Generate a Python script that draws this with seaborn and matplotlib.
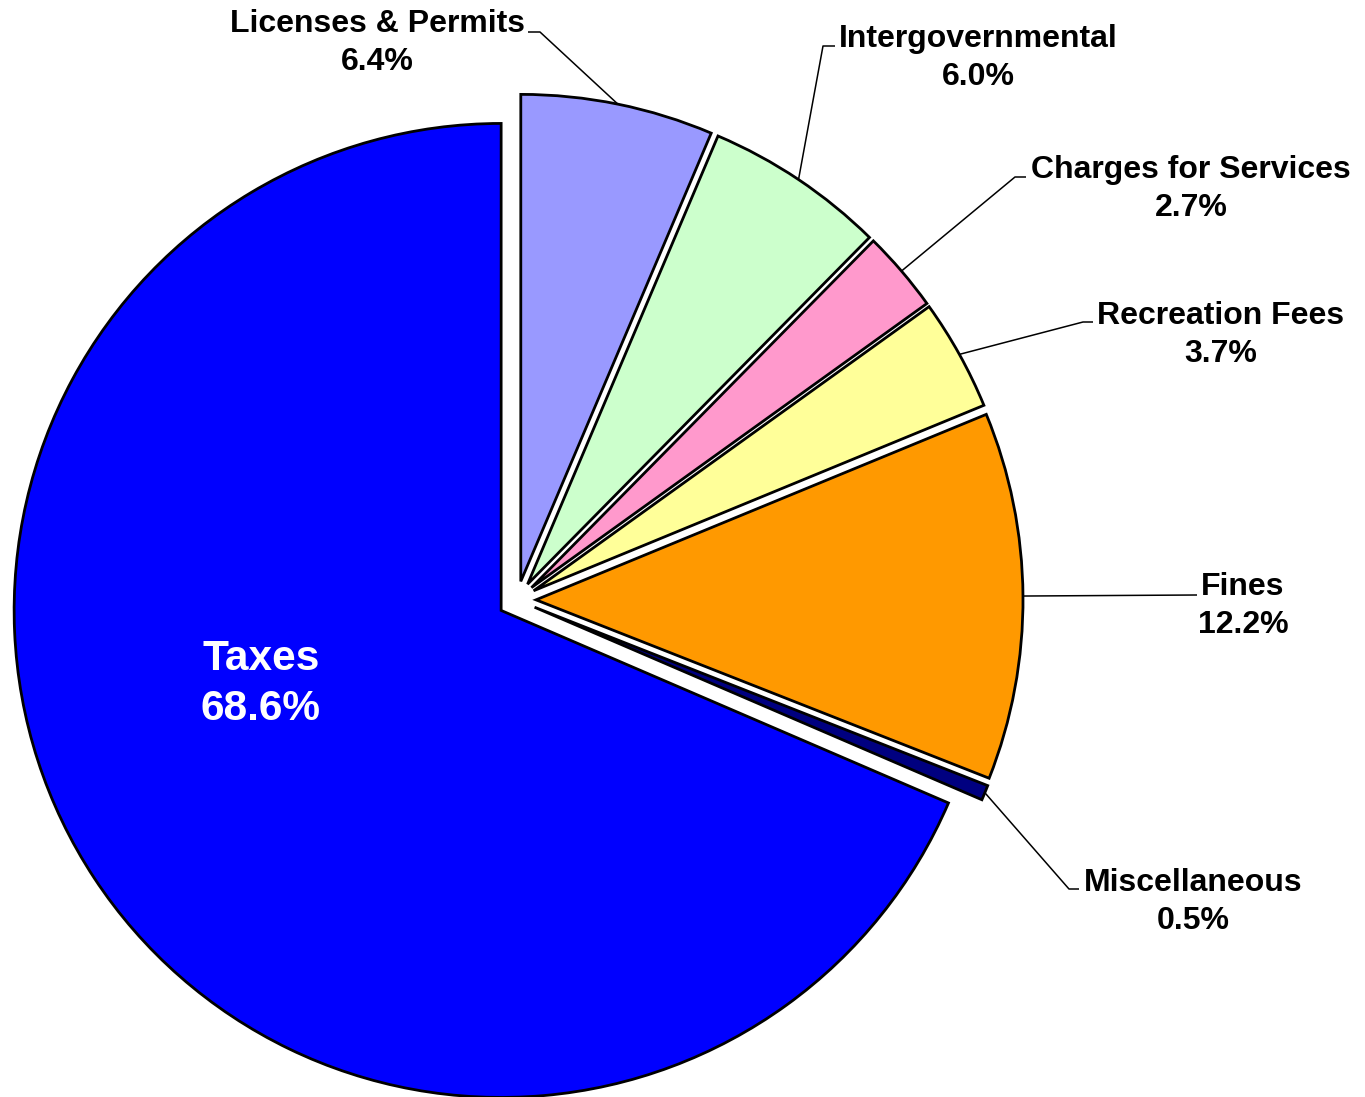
import numpy as np
import matplotlib
matplotlib.use("Agg")
import matplotlib.pyplot as plt
import seaborn as sns

# Revenue sources, drawn clockwise from 12 o'clock
categories = ["Licenses & Permits", "Intergovernmental", "Charges for Services",
              "Recreation Fees", "Fines", "Miscellaneous", "Taxes"]
shares = [6.4, 6.0, 2.7, 3.7, 12.2, 0.5, 68.6]
colors = ["#9999FF", "#CCFFCC", "#FF99CC", "#FFFF99", "#FF9900", "#000080", "#0000FF"]

sns.set_theme(style="white")
plt.rcParams["font.family"] = ["Liberation Sans", "DejaVu Sans"]

W, H = 1365, 1097
fig = plt.figure(figsize=(W / 100, H / 100), dpi=100)
ax = fig.add_axes([0, 0, 1, 1])

center = (517, 600)
radius = 487
# every slice pulled out by the same fraction of the radius
explode = [0.039 * radius] * len(shares)

# y axis runs downward, so counterclock=True in data space reads clockwise on screen
wedges, _ = ax.pie(shares, colors=colors, explode=explode, startangle=-90,
                   counterclock=True, radius=radius, center=center,
                   wedgeprops=dict(edgecolor="black", linewidth=2.0))
ax.set_xlim(0, W)
ax.set_ylim(H, 0)
ax.set_aspect("equal")
ax.axis("off")

fs = 23
# label placement: (text centre x, first baseline y, knee point, line end point)
layout = {
    "Licenses & Permits": (377, 32, (540, 32), (528, 32)),
    "Intergovernmental": (978, 47, (823, 46), (835, 46)),
    "Charges for Services": (1191, 178, (1015, 177), (1026, 177)),
    "Recreation Fees": (1221, 324, (1083, 322), (1093, 322)),
    "Fines": (1243, 595, (1197, 595), (1197, 595)),
    "Miscellaneous": (1193, 891, (1069, 889), (1079, 889)),
}

for w, name, val in zip(wedges, categories, shares):
    pct = f"{val:.1f}%"
    if name == "Taxes":
        ax.text(261, 670, name, color="white", fontsize=30.5, fontweight="bold",
                ha="center", va="baseline")
        ax.text(261, 720, pct, color="white", fontsize=30.5, fontweight="bold",
                ha="center", va="baseline")
        continue
    tx, ty, knee, end = layout[name]
    mid = np.deg2rad((w.theta1 + w.theta2) / 2)
    cx, cy = w.center
    ax_pt = (cx + w.r * np.cos(mid), cy + w.r * np.sin(mid))
    ax.plot([ax_pt[0], knee[0], end[0]], [ax_pt[1], knee[1], end[1]],
            color="black", linewidth=1.1, solid_capstyle="butt", zorder=1)
    ax.text(tx, ty, name, color="black", fontsize=fs, fontweight="bold",
            ha="center", va="baseline")
    ax.text(tx, ty + 38, pct, color="black", fontsize=fs, fontweight="bold",
            ha="center", va="baseline")

fig.savefig("out.png", dpi=100, facecolor="white")
